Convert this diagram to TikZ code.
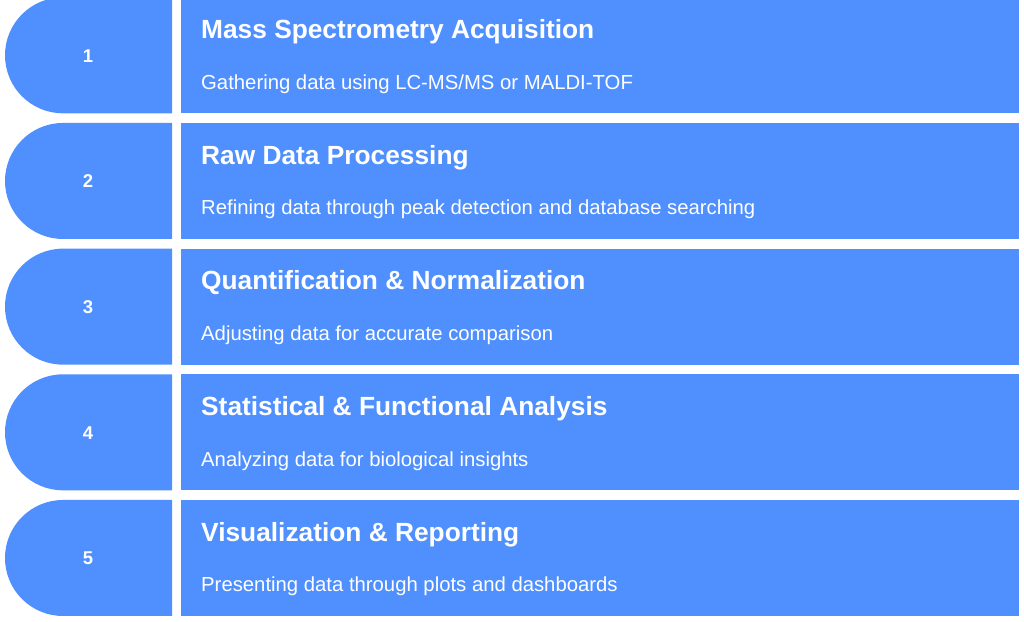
\documentclass[tikz,border=0pt]{standalone}
\usepackage{fontspec}
\setmainfont{Liberation Sans}
\definecolor{stepblue}{HTML}{4F90FE}
\begin{document}
\begin{tikzpicture}[x=1pt,y=-1pt,
  numtxt/.style={text=white,font=\bfseries\fontsize{18.5}{22}\selectfont,anchor=center},
  titletxt/.style={text=white,font=\bfseries\fontsize{26.3}{30}\selectfont,anchor=base west,inner sep=0pt},
  subtxt/.style={text=white,font=\fontsize{20.3}{24}\selectfont,anchor=base west,inner sep=0pt},
  panel/.style={fill=stepblue,draw=none}]
\useasboundingbox (0,0) rectangle (1024,621);
\clip (0,0) rectangle (1024,621);
\foreach \i/\ttl/\sub in {
  1/{Mass Spectrometry Acquisition}/{Gathering data using LC-MS/MS or MALDI-TOF},
  2/{Raw Data Processing}/{Refining data through peak detection and database searching},
  3/{Quantification \& Normalization}/{Adjusting data for accurate comparison},
  4/{Statistical \& Functional Analysis}/{Analyzing data for biological insights},
  5/{Visualization \& Reporting}/{Presenting data through plots and dashboards}}{
  \pgfmathsetmacro{\t}{-2.7+125.67*(\i-1)}
  \pgfmathsetmacro{\b}{\t+116}
  \path[panel] (172,\t) -- (172,\b) -- (63,\b) arc[start angle=270,end angle=90,x radius=58,y radius=-58] -- cycle;
  \path[panel] (181,\t) rectangle (1019,\b);
  \node[numtxt] (n\i) at (88,\t+58.5) {\i};
  \node[titletxt] (t\i) at (201,\t+41.2) {\ttl};
  \node[subtxt] (s\i) at (201,\t+92) {\sub};
}
\end{tikzpicture}
\end{document}
